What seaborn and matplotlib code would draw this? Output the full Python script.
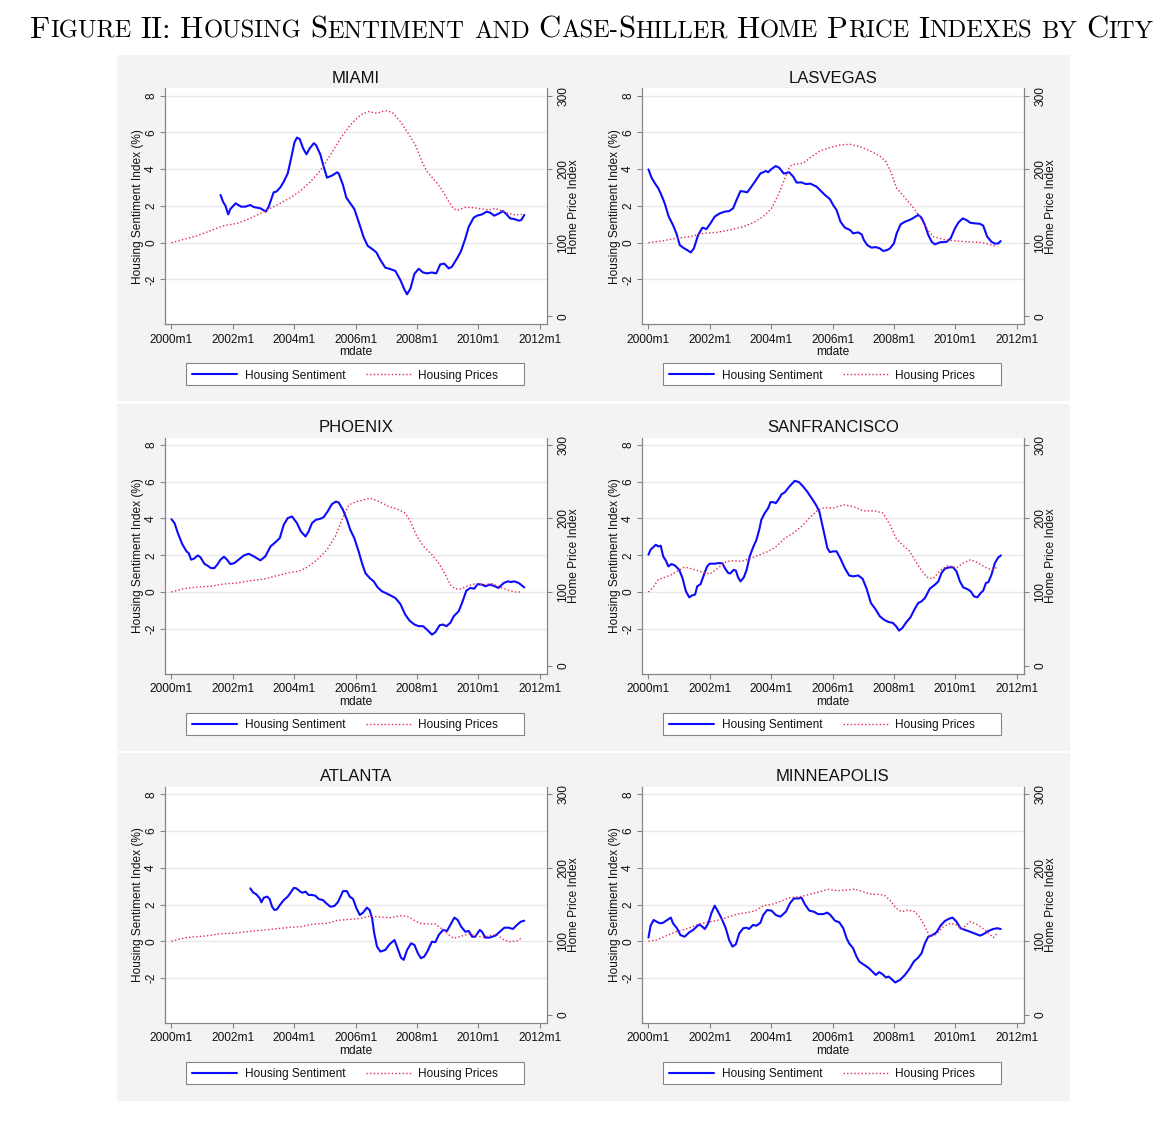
import matplotlib
matplotlib.use("Agg")
import matplotlib.pyplot as plt
from matplotlib.patches import Rectangle
import pandas as pd
import seaborn as sns

# ---------------- data (year offset from 2000m1, value) ----------------
cities = ["MIAMI", "LASVEGAS", "PHOENIX", "SANFRANCISCO", "ATLANTA", "MINNEAPOLIS"]
x_tick_years = [2000, 2002, 2004, 2006, 2008, 2010, 2012]
x_tick_labels = ["2000m1", "2002m1", "2004m1", "2006m1", "2008m1", "2010m1", "2012m1"]
left_ticks = [-2, 0, 2, 4, 6, 8]
right_ticks = [0, 100, 200, 300]
legend_labels = ["Housing Sentiment", "Housing Prices"]

miami_sentiment = [(1.60, 2.60), (1.68, 2.23), (1.76, 2.01), (1.85, 1.54), (1.92, 1.83), (2.09, 2.14), (2.27, 1.96),
                   (2.41, 1.96), (2.57, 2.05), (2.68, 1.94), (2.90, 1.87), (3.08, 1.69), (3.17, 1.96), (3.33, 2.74),
                   (3.42, 2.78), (3.55, 3.01), (3.66, 3.32), (3.79, 3.77), (3.90, 4.59), (4.01, 5.46), (4.09, 5.72),
                   (4.18, 5.64), (4.29, 5.14), (4.40, 4.81), (4.51, 5.14), (4.64, 5.41), (4.71, 5.32), (4.85, 4.81),
                   (4.96, 4.14), (5.07, 3.54), (5.23, 3.65), (5.40, 3.83), (5.45, 3.77), (5.59, 3.14), (5.70, 2.45),
                   (5.83, 2.14), (5.96, 1.83), (6.10, 1.14), (6.27, 0.27), (6.40, -0.18), (6.54, -0.34), (6.68, -0.53),
                   (6.81, -0.94), (6.97, -1.36), (7.13, -1.43), (7.30, -1.54), (7.46, -2.03), (7.59, -2.54),
                   (7.68, -2.81), (7.79, -2.49), (7.92, -1.69), (8.06, -1.42), (8.20, -1.62), (8.33, -1.67),
                   (8.49, -1.62), (8.63, -1.67), (8.76, -1.18), (8.89, -1.14), (9.04, -1.40), (9.14, -1.31),
                   (9.31, -0.85), (9.44, -0.45), (9.58, 0.24), (9.69, 0.87), (9.85, 1.36), (9.96, 1.47), (10.12, 1.54),
                   (10.28, 1.69), (10.39, 1.63), (10.52, 1.47), (10.66, 1.58), (10.81, 1.72), (10.94, 1.51),
                   (11.04, 1.32), (11.17, 1.29), (11.32, 1.20), (11.40, 1.23), (11.50, 1.51)]
miami_prices = [(0.00, 100.0), (0.40, 104.5), (0.84, 109.5), (1.27, 116.3), (1.71, 123.1), (2.14, 126.3), (2.57, 133.1),
                (3.01, 142.2), (3.44, 151.3), (3.88, 161.3), (4.20, 170.3), (4.53, 183.0), (4.85, 198.0), (5.18, 219.3),
                (5.51, 242.0), (5.83, 260.2), (6.16, 273.8), (6.43, 278.3), (6.70, 276.0), (6.97, 279.7), (7.19, 277.4),
                (7.46, 264.7), (7.68, 251.1), (7.95, 232.9), (8.17, 210.2), (8.33, 196.6), (8.60, 183.9), (8.82, 171.7),
                (9.04, 155.8), (9.20, 145.8), (9.36, 144.5), (9.58, 148.1), (9.85, 147.6), (10.12, 145.8),
                (10.34, 144.5), (10.56, 146.7), (10.77, 143.1), (10.99, 139.9), (11.21, 137.7), (11.42, 138.6)]

lasvegas_sentiment = [(0.00, 3.99), (0.10, 3.54), (0.21, 3.23), (0.32, 2.96), (0.42, 2.60), (0.53, 2.14), (0.66, 1.42),
                      (0.80, 0.96), (0.91, 0.51), (1.02, -0.13), (1.13, -0.27), (1.26, -0.40), (1.38, -0.53),
                      (1.48, -0.31), (1.62, 0.42), (1.76, 0.82), (1.89, 0.74), (2.02, 1.05), (2.16, 1.42), (2.33, 1.60),
                      (2.49, 1.69), (2.63, 1.72), (2.76, 1.87), (2.87, 2.32), (3.00, 2.81), (3.11, 2.78), (3.22, 2.74),
                      (3.33, 2.99), (3.47, 3.32), (3.65, 3.77), (3.83, 3.90), (3.90, 3.83), (4.01, 4.01), (4.15, 4.17),
                      (4.26, 4.08), (4.41, 3.76), (4.59, 3.83), (4.72, 3.59), (4.83, 3.27), (4.99, 3.28), (5.13, 3.19),
                      (5.28, 3.21), (5.48, 3.05), (5.64, 2.78), (5.75, 2.60), (5.91, 2.38), (6.02, 2.05), (6.13, 1.78),
                      (6.26, 1.14), (6.40, 0.82), (6.57, 0.69), (6.67, 0.51), (6.84, 0.56), (6.95, 0.45), (7.02, 0.15),
                      (7.13, -0.13), (7.27, -0.27), (7.41, -0.24), (7.54, -0.31), (7.65, -0.45), (7.78, -0.40),
                      (7.87, -0.31), (8.00, -0.04), (8.09, 0.51), (8.22, 1.00), (8.36, 1.14), (8.50, 1.23), (8.61, 1.32),
                      (8.79, 1.51), (8.90, 1.36), (9.01, 0.96), (9.12, 0.42), (9.23, 0.05), (9.34, -0.09), (9.50, 0.02),
                      (9.72, 0.05), (9.85, 0.24), (9.99, 0.78), (10.10, 1.09), (10.24, 1.32), (10.37, 1.23),
                      (10.48, 1.09), (10.64, 1.05), (10.80, 1.03), (10.91, 0.93), (11.04, 0.33), (11.18, 0.05),
                      (11.29, -0.05), (11.40, -0.04), (11.48, 0.09)]
lasvegas_prices = [(0.00, 100.0), (0.48, 102.7), (0.91, 105.9), (1.35, 108.2), (1.78, 112.7), (2.22, 114.1),
                   (2.65, 117.2), (3.09, 121.8), (3.41, 127.2), (3.74, 135.4), (4.01, 146.7), (4.23, 164.9),
                   (4.45, 187.6), (4.61, 204.4), (4.77, 206.6), (5.04, 208.0), (5.32, 217.1), (5.59, 224.8),
                   (5.91, 229.3), (6.24, 232.9), (6.57, 233.8), (6.89, 230.7), (7.22, 224.8), (7.54, 218.0),
                   (7.74, 210.2), (7.92, 194.4), (8.09, 174.0), (8.36, 161.3), (8.58, 150.4), (8.79, 138.6),
                   (9.07, 119.5), (9.28, 108.2), (9.61, 104.5), (9.93, 102.7), (10.37, 101.4), (10.80, 100.5),
                   (11.13, 97.7), (11.37, 94.6)]

phoenix_sentiment = [(0.00, 3.96), (0.10, 3.75), (0.21, 3.20), (0.35, 2.61), (0.49, 2.21), (0.56, 2.12), (0.64, 1.76),
                     (0.73, 1.81), (0.86, 1.99), (0.94, 1.90), (1.08, 1.52), (1.18, 1.43), (1.29, 1.30), (1.40, 1.30),
                     (1.49, 1.48), (1.60, 1.76), (1.71, 1.92), (1.81, 1.76), (1.92, 1.52), (2.05, 1.57), (2.19, 1.76),
                     (2.36, 1.99), (2.52, 2.08), (2.68, 1.94), (2.90, 1.72), (3.06, 1.94), (3.23, 2.48), (3.39, 2.71),
                     (3.53, 2.93), (3.66, 3.66), (3.79, 4.02), (3.93, 4.11), (4.09, 3.75), (4.22, 3.29), (4.37, 3.02),
                     (4.47, 3.29), (4.58, 3.75), (4.71, 3.93), (4.85, 3.98), (4.96, 4.07), (5.09, 4.38), (5.23, 4.78),
                     (5.36, 4.92), (5.45, 4.87), (5.59, 4.47), (5.72, 3.93), (5.83, 3.38), (5.96, 2.93), (6.10, 2.21),
                     (6.21, 1.57), (6.32, 1.03), (6.46, 0.76), (6.59, 0.58), (6.72, 0.25), (6.86, 0.04), (7.00, -0.07),
                     (7.13, -0.18), (7.30, -0.33), (7.46, -0.65), (7.62, -1.23), (7.76, -1.56), (7.92, -1.77),
                     (8.06, -1.86), (8.20, -1.86), (8.33, -2.05), (8.49, -2.32), (8.60, -2.19), (8.74, -1.81),
                     (8.85, -1.77), (8.96, -1.86), (9.09, -1.68), (9.20, -1.32), (9.36, -1.05), (9.47, -0.60),
                     (9.61, 0.07), (9.74, 0.22), (9.87, 0.18), (9.98, 0.43), (10.12, 0.40), (10.23, 0.31),
                     (10.37, 0.40), (10.50, 0.34), (10.66, 0.22), (10.83, 0.49), (10.96, 0.58), (11.07, 0.54),
                     (11.17, 0.58), (11.32, 0.49), (11.50, 0.25)]
phoenix_prices = [(0.00, 100.0), (0.40, 104.5), (0.84, 106.8), (1.27, 107.7), (1.71, 110.9), (2.14, 112.2),
                  (2.57, 115.4), (3.01, 117.6), (3.44, 122.2), (3.88, 126.7), (4.15, 128.1), (4.42, 133.5),
                  (4.75, 143.9), (5.07, 157.5), (5.34, 175.6), (5.56, 198.2), (5.78, 218.6), (6.05, 223.1),
                  (6.27, 225.3), (6.48, 227.6), (6.76, 223.1), (7.08, 216.3), (7.41, 211.8), (7.62, 207.2),
                  (7.79, 195.9), (8.00, 175.6), (8.22, 162.0), (8.49, 150.7), (8.71, 139.4), (8.93, 123.5),
                  (9.09, 110.0), (9.25, 104.1), (9.42, 104.1), (9.63, 107.7), (9.90, 111.3), (10.18, 110.0),
                  (10.45, 111.3), (10.72, 106.3), (10.99, 102.3), (11.21, 100.0), (11.39, 100.0)]

sanfrancisco_sentiment = [(0.00, 2.03), (0.07, 2.30), (0.15, 2.43), (0.24, 2.57), (0.32, 2.48), (0.40, 2.52),
                          (0.48, 1.94), (0.57, 1.70), (0.65, 1.39), (0.75, 1.52), (0.86, 1.45), (1.00, 1.21),
                          (1.11, 0.76), (1.22, 0.04), (1.33, -0.29), (1.43, -0.18), (1.52, -0.14), (1.59, 0.31),
                          (1.70, 0.43), (1.80, 0.90), (1.91, 1.39), (2.00, 1.54), (2.16, 1.54), (2.27, 1.57),
                          (2.41, 1.56), (2.49, 1.30), (2.60, 1.03), (2.67, 1.01), (2.78, 1.21), (2.85, 1.16),
                          (2.92, 0.80), (3.00, 0.58), (3.11, 0.80), (3.20, 1.21), (3.30, 1.94), (3.41, 2.43),
                          (3.52, 2.84), (3.61, 3.38), (3.68, 3.93), (3.79, 4.29), (3.90, 4.56), (3.98, 4.89),
                          (4.07, 4.89), (4.15, 4.83), (4.23, 5.01), (4.34, 5.32), (4.45, 5.43), (4.55, 5.65),
                          (4.66, 5.86), (4.77, 6.05), (4.91, 5.97), (5.04, 5.74), (5.17, 5.47), (5.32, 5.10),
                          (5.46, 4.74), (5.57, 4.38), (5.64, 3.84), (5.75, 3.02), (5.83, 2.39), (5.91, 2.17),
                          (6.02, 2.21), (6.13, 2.21), (6.26, 1.81), (6.40, 1.30), (6.54, 0.90), (6.67, 0.85),
                          (6.84, 0.90), (6.98, 0.72), (7.11, 0.18), (7.25, -0.60), (7.41, -0.96), (7.54, -1.32),
                          (7.67, -1.50), (7.82, -1.63), (7.96, -1.68), (8.07, -1.86), (8.17, -2.10), (8.28, -1.95),
                          (8.41, -1.63), (8.54, -1.38), (8.65, -1.01), (8.79, -0.60), (8.90, -0.51), (9.01, -0.33),
                          (9.17, 0.18), (9.34, 0.40), (9.45, 0.58), (9.55, 1.03), (9.66, 1.27), (9.80, 1.34),
                          (9.93, 1.34), (10.04, 1.12), (10.15, 0.58), (10.26, 0.25), (10.39, 0.16), (10.50, 0.04),
                          (10.61, -0.24), (10.72, -0.29), (10.83, -0.05), (10.91, 0.07), (11.00, 0.49), (11.08, 0.54),
                          (11.18, 0.94), (11.29, 1.57), (11.40, 1.88), (11.49, 1.99)]
sanfrancisco_prices = [(0.00, 100.0), (0.15, 106.3), (0.32, 116.7), (0.53, 119.9), (0.75, 123.5), (0.93, 128.1),
                       (1.18, 133.9), (1.40, 131.7), (1.67, 128.1), (2.00, 124.4), (2.27, 132.6), (2.54, 141.6),
                       (2.76, 142.5), (3.03, 141.6), (3.30, 145.3), (3.58, 149.8), (3.90, 155.2), (4.17, 162.0),
                       (4.45, 173.3), (4.72, 180.1), (4.99, 189.1), (5.26, 201.4), (5.53, 211.8), (5.75, 214.9),
                       (6.02, 214.0), (6.35, 218.6), (6.67, 216.3), (7.00, 210.4), (7.38, 210.4), (7.65, 207.2),
                       (7.87, 191.4), (8.07, 173.3), (8.25, 165.2), (8.52, 155.2), (8.74, 139.4), (8.96, 125.8),
                       (9.12, 119.0), (9.28, 118.1), (9.50, 129.0), (9.77, 136.2), (10.04, 132.6), (10.26, 139.4),
                       (10.50, 143.9), (10.75, 139.4), (11.02, 132.6), (11.18, 130.3), (11.37, 133.5)]

atlanta_sentiment = [(2.57, 2.88), (2.66, 2.66), (2.77, 2.55), (2.88, 2.33), (2.93, 2.12), (3.01, 2.37), (3.12, 2.43),
                     (3.20, 2.30), (3.28, 1.88), (3.36, 1.70), (3.44, 1.74), (3.55, 2.01), (3.66, 2.24), (3.79, 2.43),
                     (3.88, 2.64), (3.99, 2.91), (4.07, 2.88), (4.18, 2.73), (4.26, 2.64), (4.37, 2.70), (4.47, 2.52),
                     (4.58, 2.52), (4.69, 2.48), (4.80, 2.30), (4.94, 2.24), (5.05, 2.06), (5.18, 1.88), (5.31, 1.92),
                     (5.42, 2.12), (5.51, 2.43), (5.59, 2.73), (5.72, 2.73), (5.81, 2.43), (5.92, 2.30), (6.03, 1.79),
                     (6.14, 1.43), (6.25, 1.57), (6.37, 1.83), (6.46, 1.70), (6.54, 1.25), (6.61, 0.43), (6.70, -0.29),
                     (6.81, -0.56), (6.97, -0.47), (7.11, -0.16), (7.27, 0.07), (7.37, -0.38), (7.48, -0.89),
                     (7.57, -1.01), (7.68, -0.47), (7.81, -0.11), (7.92, -0.20), (8.03, -0.65), (8.13, -0.92),
                     (8.24, -0.83), (8.35, -0.52), (8.49, -0.02), (8.60, -0.05), (8.71, 0.34), (8.85, 0.62),
                     (8.98, 0.56), (9.09, 0.89), (9.22, 1.29), (9.33, 1.16), (9.44, 0.80), (9.58, 0.52), (9.69, 0.56),
                     (9.80, 0.25), (9.90, 0.25), (10.05, 0.62), (10.12, 0.52), (10.23, 0.20), (10.37, 0.20),
                     (10.56, 0.31), (10.70, 0.52), (10.85, 0.74), (10.99, 0.74), (11.13, 0.67), (11.26, 0.89),
                     (11.39, 1.07), (11.50, 1.12)]
atlanta_prices = [(0.00, 100.0), (0.46, 105.0), (0.84, 106.3), (1.22, 107.7), (1.60, 110.4), (2.03, 110.9),
                  (2.47, 113.1), (2.90, 114.9), (3.34, 116.7), (3.77, 118.6), (4.20, 119.9), (4.64, 123.5),
                  (5.07, 124.4), (5.40, 128.5), (5.83, 129.9), (6.16, 131.2), (6.48, 134.4), (6.81, 133.0),
                  (7.14, 132.1), (7.46, 134.8), (7.68, 133.9), (7.90, 129.0), (8.11, 124.4), (8.38, 123.5),
                  (8.60, 123.5), (8.82, 116.7), (9.04, 108.6), (9.20, 104.1), (9.47, 107.2), (9.69, 110.0),
                  (9.96, 107.2), (10.18, 105.4), (10.45, 108.6), (10.63, 108.6), (10.83, 101.8), (11.04, 99.5),
                  (11.26, 100.5), (11.39, 104.1)]

minneapolis_sentiment = [(0.00, 0.20), (0.07, 0.85), (0.17, 1.16), (0.26, 1.07), (0.37, 0.98), (0.48, 1.01),
                         (0.61, 1.16), (0.73, 1.29), (0.80, 0.98), (0.93, 0.71), (1.04, 0.34), (1.18, 0.25),
                         (1.33, 0.49), (1.46, 0.62), (1.57, 0.80), (1.67, 0.92), (1.75, 0.80), (1.84, 0.67),
                         (1.95, 0.98), (2.05, 1.52), (2.16, 1.94), (2.27, 1.61), (2.38, 1.25), (2.52, 0.71),
                         (2.63, 0.07), (2.74, -0.29), (2.85, -0.16), (2.96, 0.43), (3.09, 0.71), (3.20, 0.74),
                         (3.28, 0.67), (3.41, 0.89), (3.52, 0.85), (3.65, 1.01), (3.74, 1.43), (3.87, 1.70),
                         (4.01, 1.67), (4.15, 1.43), (4.30, 1.34), (4.48, 1.61), (4.61, 2.06), (4.74, 2.33),
                         (4.88, 2.33), (4.99, 2.37), (5.10, 2.01), (5.24, 1.67), (5.39, 1.61), (5.53, 1.48),
                         (5.70, 1.48), (5.83, 1.56), (5.93, 1.43), (6.08, 1.12), (6.22, 1.03), (6.35, 0.71),
                         (6.46, 0.16), (6.54, -0.11), (6.67, -0.38), (6.78, -0.83), (6.87, -1.10), (7.00, -1.25),
                         (7.16, -1.43), (7.30, -1.65), (7.41, -1.83), (7.52, -1.68), (7.63, -1.79), (7.74, -1.97),
                         (7.83, -1.92), (7.92, -2.05), (8.04, -2.24), (8.20, -2.10), (8.36, -1.83), (8.52, -1.47),
                         (8.65, -1.10), (8.79, -0.89), (8.90, -0.65), (9.01, -0.11), (9.12, 0.25), (9.26, 0.34),
                         (9.39, 0.49), (9.52, 0.85), (9.66, 1.10), (9.77, 1.21), (9.91, 1.29), (10.04, 1.07),
                         (10.17, 0.71), (10.32, 0.62), (10.48, 0.52), (10.64, 0.42), (10.80, 0.31), (10.91, 0.38),
                         (11.08, 0.56), (11.24, 0.67), (11.37, 0.71), (11.48, 0.67)]
minneapolis_prices = [(0.00, 100.0), (0.26, 101.8), (0.59, 107.7), (0.91, 113.1), (1.24, 116.7), (1.57, 122.2),
                      (1.89, 125.8), (2.22, 128.1), (2.54, 132.1), (2.87, 136.7), (3.20, 138.9), (3.47, 141.2),
                      (3.74, 148.4), (4.01, 150.2), (4.28, 153.8), (4.61, 159.3), (4.93, 160.6), (5.26, 163.8),
                      (5.59, 167.4), (5.86, 170.6), (6.13, 168.8), (6.46, 169.7), (6.73, 171.0), (7.00, 167.4),
                      (7.27, 163.8), (7.54, 163.8), (7.71, 162.0), (7.87, 156.1), (8.07, 144.8), (8.25, 140.3),
                      (8.47, 142.5), (8.68, 140.3), (8.85, 132.1), (9.01, 119.9), (9.17, 106.3), (9.39, 109.5),
                      (9.61, 119.9), (9.83, 124.4), (10.04, 122.2), (10.21, 116.7), (10.48, 126.7), (10.70, 123.1),
                      (10.97, 115.4), (11.24, 105.0), (11.37, 110.9)]

sentiment_series = [miami_sentiment, lasvegas_sentiment, phoenix_sentiment,
                    sanfrancisco_sentiment, atlanta_sentiment, minneapolis_sentiment]
price_series = [miami_prices, lasvegas_prices, phoenix_prices,
                sanfrancisco_prices, atlanta_prices, minneapolis_prices]

title_text = "Figure II: Housing Sentiment and Case-Shiller Home Price Indexes by City"

# ---------------- style ----------------
sns.set_theme(style="ticks")
plt.rcParams['font.family'] = ['Liberation Sans', 'DejaVu Sans']

W, H = 1172, 1124
fig = plt.figure(figsize=(W / 100, H / 100), dpi=100, facecolor='white')


def fx(x):
    return x / W


def fy(y):
    return 1 - y / H


BG = '#f5f2f5'
AXC = '#858585'
BLUE = '#0b0bff'
RED = '#e3284f'
FS = 8.6

for y0, y1 in [(55, 401.3), (403.6, 750.6), (752.9, 1100.7)]:
    fig.patches.append(Rectangle((fx(117), fy(y1)), fx(1070) - fx(117), fy(y0) - fy(y1),
                                 transform=fig.transFigure, facecolor=BG, edgecolor='none', zorder=-10))

LY0, LY1 = -4.44, 8.40
for i, city in enumerate(cities):
    r, c = divmod(i, 2)
    dx, dy = 477.0 * c, 349.3 * r
    left, right = 164.7 + dx, 547.0 + dx
    top, bottom = 88.3 + dy, 324.3 + dy
    ax = fig.add_axes([fx(left), fy(bottom), fx(right) - fx(left), fy(top) - fy(bottom)])
    ax.set_facecolor('white')
    ax2 = ax.twinx()

    sdf = pd.DataFrame(sentiment_series[i], columns=['t', 'v'])
    sdf['date'] = 2000 + sdf['t']
    pdf = pd.DataFrame(price_series[i], columns=['t', 'v'])
    pdf['date'] = 2000 + pdf['t']

    sns.lineplot(data=sdf, x='date', y='v', ax=ax, color=BLUE, lw=1.5,
                 estimator=None, sort=False, legend=False)
    sns.lineplot(data=pdf, x='date', y='v', ax=ax2, color=RED, lw=1.0,
                 linestyle=(0, (1, 1.6)), estimator=None, sort=False, legend=False)

    ax.set_xlim(1999.78, 2012.24)
    ax.set_ylim(LY0, LY1)
    ax2.set_ylim(100 + 25 * LY0, 100 + 25 * LY1)
    ax.set_xticks(x_tick_years)
    ax.set_xticklabels(x_tick_labels)
    ax.set_yticks(left_ticks)
    ax.set_yticklabels([str(v) for v in left_ticks])
    ax2.set_yticks(right_ticks)
    ax2.set_yticklabels([str(v) for v in right_ticks])

    ax.yaxis.grid(True, color='#e9e8ec', lw=1.0)
    ax.xaxis.grid(False)
    ax2.grid(False)

    for s in ['top', 'right']:
        ax.spines[s].set_visible(False)
    for s in ['left', 'bottom']:
        ax.spines[s].set_color(AXC)
        ax.spines[s].set_linewidth(0.9)
    for s in ['top', 'left', 'bottom']:
        ax2.spines[s].set_visible(False)
    ax2.spines['right'].set_color(AXC)
    ax2.spines['right'].set_linewidth(0.9)

    ax.tick_params(axis='x', direction='out', length=3.5, width=0.8, color=AXC,
                   labelsize=FS, pad=3.2, labelcolor='#111111', bottom=True)
    ax.tick_params(axis='y', direction='out', length=3.5, width=0.8, color=AXC,
                   labelsize=FS, pad=2.0, labelrotation=90, labelcolor='#111111', left=True)
    ax2.tick_params(axis='y', direction='out', length=3.5, width=0.8, color=AXC,
                    labelsize=FS, pad=4.0, labelrotation=90, labelcolor='#111111', right=True)
    plt.setp(ax.get_yticklabels(), va='center')
    plt.setp(ax2.get_yticklabels(), va='center')

    ax.set_xlabel("mdate", fontsize=FS, labelpad=0.6, color='#111111')
    ax.set_ylabel("Housing Sentiment Index (%)", fontsize=FS, labelpad=0.6, color='#111111')
    ax2.set_ylabel("Home Price Index", fontsize=FS, labelpad=-1.0, color='#111111')
    ax.set_title(city, fontsize=12, pad=4, color='#111111')

    # legend
    fig.patches.append(Rectangle((fx(186.3 + dx), fy(385.3 + dy)), fx(338.0), 22.0 / H,
                                 transform=fig.transFigure, facecolor='white', edgecolor=AXC,
                                 lw=0.8, zorder=-5))
    handles = [ax.lines[0], ax2.lines[0]]
    fig.legend(handles, legend_labels, loc='center left',
               bbox_to_anchor=(fx(192.0 + dx), fy(375.6 + dy)), ncol=2, frameon=False,
               fontsize=FS, handlelength=3.77, handletextpad=0.64, columnspacing=1.7,
               borderpad=0, borderaxespad=0, labelcolor='#111111')

# ---------------- small-caps figure title ----------------
renderer = fig.canvas.get_renderer()
TITLE_FONT = ['cmr10', 'DejaVu Serif']
SC_RATIO = 0.80


def smallcaps_segments(word):
    segs = []
    for ch in word:
        if ch.isalpha():
            big = ch.isupper()
        else:
            big = segs[-1][1] if segs else True
        if segs and segs[-1][1] == big:
            segs[-1][0] += ch.upper()
        else:
            segs.append([ch.upper(), big])
    return segs


words = [smallcaps_segments(w) for w in title_text.split(" ")]


def measure(s, size):
    t = fig.text(0, 0, s, fontsize=size, family=TITLE_FONT)
    w = t.get_window_extent(renderer).width
    t.remove()
    return w


base = 20.0
space = 0.30
total = 0.0
for wi, segs in enumerate(words):
    for s, big in segs:
        total += measure(s, base if big else base * SC_RATIO)
    if wi < len(words) - 1:
        total += space * base * 100 / 72
x_start, x_end = 30.0, 1157.0
scale = (x_end - x_start) / total
size = base * scale
x = x_start
baseline = 37.5
for wi, segs in enumerate(words):
    for s, big in segs:
        fsz = size if big else size * SC_RATIO
        t = fig.text(fx(x), fy(baseline), s, fontsize=fsz, family=TITLE_FONT,
                     ha='left', va='baseline', color='black')
        x += t.get_window_extent(renderer).width
    x += space * size * 100 / 72

fig.savefig("out.png", dpi=100, facecolor='white')
